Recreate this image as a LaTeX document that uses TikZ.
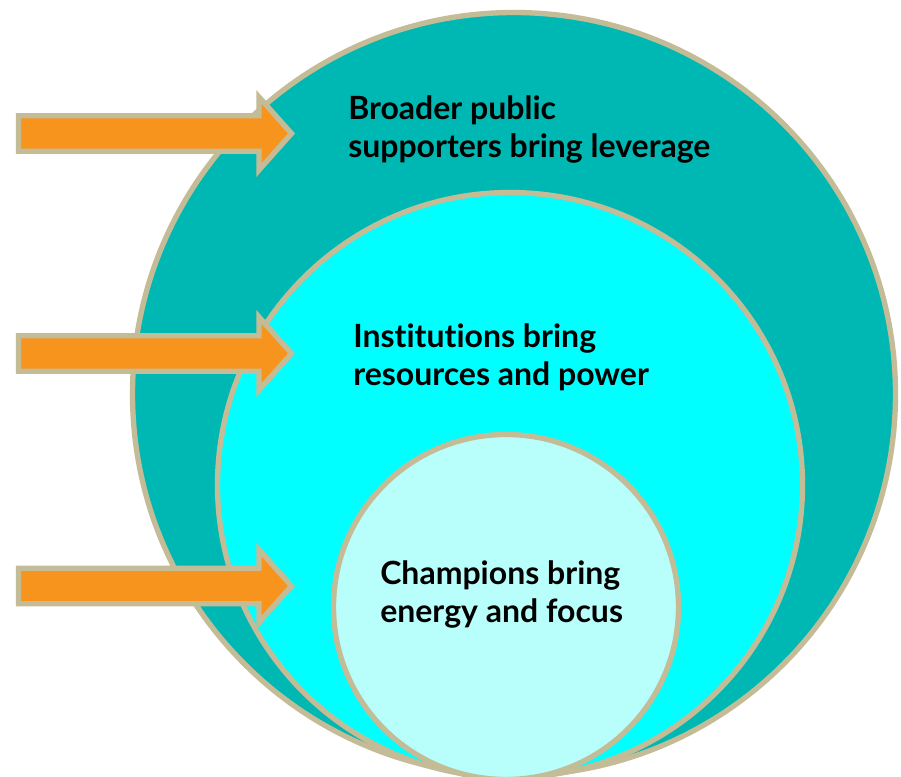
\documentclass[tikz,border=0pt]{standalone}
\usepackage{fontspec}
\setmainfont{Lato}[UprightFont=* Bold,Ligatures=NoCommon]
\begin{document}
\begin{tikzpicture}[x=0.75pt,y=-0.75pt,
  ring/.style={draw=rimbeige,line width=4pt},
  blockarrow/.style={draw=rimbeige,fill=arroworange,line width=4pt,miter limit=10},
  label/.style={anchor=north west,inner sep=0pt,align=left,font=\fontsize{24}{28.5}\selectfont,text=black}]
\definecolor{rimbeige}{HTML}{C4BB97}
\definecolor{outerteal}{HTML}{00B8B3}
\definecolor{midcyan}{HTML}{00FFFF}
\definecolor{innercyan}{HTML}{B8FFFC}
\definecolor{arroworange}{HTML}{F7941D}
\useasboundingbox (0,0) rectangle (901,777);
\begin{scope}
\clip (0,0) rectangle (901,777);
% nested circles, all touching near the bottom edge
\draw[ring,fill=outerteal] (514,394) coordinate (co) circle (381.5);
\draw[ring,fill=midcyan] (510,485) coordinate (cm) circle (292.5);
\draw[ring,fill=innercyan] (506,607) coordinate (ci) circle (172.5);
\end{scope}
% block arrows pointing into each ring
\foreach \yc in {133.5,353.5,586}{
  \draw[blockarrow] (18.5,\yc-17.75) -- (259,\yc-17.75) -- (259,\yc-36.5)
    -- (291.5,\yc) -- (259,\yc+36.5) -- (259,\yc+17.75) -- (18.5,\yc+17.75) -- cycle;
}
\node[label] (lblouter) at (348,95) {Broader public\\supporters bring leverage};
\node[label] (lblmid) at (353,323) {Institutions bring\\resources and power};
\node[label] (lblinner) at (380,560) {Champions bring\\energy and focus};
\end{tikzpicture}
\end{document}
